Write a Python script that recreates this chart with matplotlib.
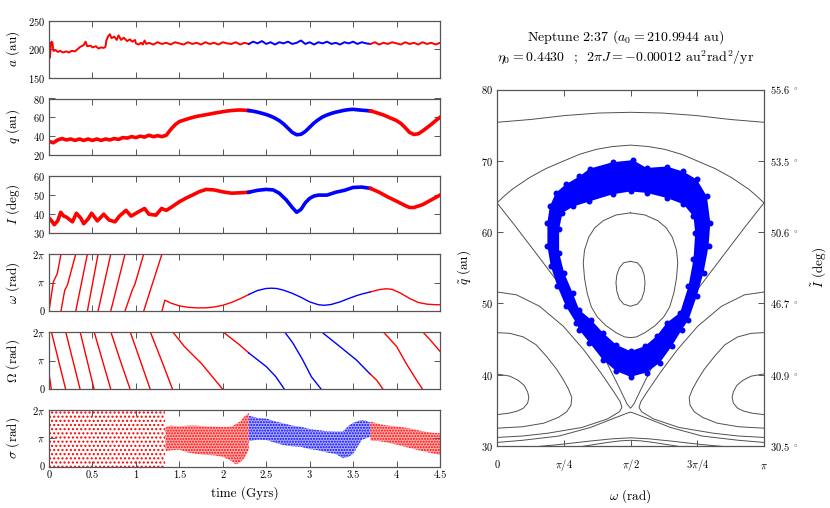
"""Neptune 2:37 resonance: orbital element history and (omega, q) phase portrait."""

import matplotlib

matplotlib.use("Agg")
import matplotlib.pyplot as plt
import numpy as np
from matplotlib.patches import PathPatch
from matplotlib.path import Path

plt.rcParams["font.family"] = ["cmr10"]
plt.rcParams["mathtext.fontset"] = "cm"
plt.rcParams["axes.formatter.use_mathtext"] = True
plt.rcParams["hatch.linewidth"] = 1.0

PI = np.pi
RED = "#ff0000"
BLUE = "#0000ff"
FRAME = "#555555"
CONTOUR = "#505050"
BLUE_START, BLUE_END = 2.3, 3.7

# ---------------------------------------------------------------- time series
A_T = [0.0, 0.005, 0.01, 0.02, 0.03, 0.04, 0.05, 0.08, 0.10, 0.13, 0.16, 0.20,
       0.23, 0.26, 0.30, 0.33, 0.36, 0.40, 0.42, 0.44, 0.48, 0.50, 0.54, 0.57,
       0.60, 0.63, 0.65, 0.66, 0.68, 0.70, 0.72, 0.75, 0.78, 0.80, 0.83, 0.86,
       0.90, 0.93, 0.96, 0.99, 1.00, 1.03, 1.06, 1.08, 1.10, 1.12, 1.15, 1.20,
       1.25, 1.30, 1.35, 1.40, 1.45, 1.50, 1.55, 1.60, 1.65, 1.70, 1.75, 1.80,
       1.85, 1.90, 1.95, 2.00, 2.05, 2.10, 2.15, 2.20, 2.25, 2.30, 2.35, 2.40,
       2.45, 2.50, 2.55, 2.60, 2.65, 2.70, 2.75, 2.80, 2.85, 2.90, 2.95, 3.00,
       3.05, 3.10, 3.15, 3.20, 3.25, 3.30, 3.35, 3.40, 3.45, 3.50, 3.55, 3.60,
       3.65, 3.70, 3.75, 3.80, 3.85, 3.90, 3.95, 4.00, 4.05, 4.10, 4.15, 4.20,
       4.25, 4.30, 4.35, 4.40, 4.45, 4.50]
A_VAL = [210, 212, 185, 205, 213, 211, 197, 198, 195, 197, 194, 196,
         194, 197, 196, 200, 204, 207, 213, 205, 206, 203, 205, 201,
         203, 202, 204, 215, 222, 226, 219, 222, 216, 224, 216, 220,
         214, 217, 213, 216, 210, 208, 211, 208, 215, 209, 211, 208,
         212, 209, 211, 208, 212, 210, 208, 212, 209, 211, 208, 212,
         209, 211, 208, 212, 210, 209, 212, 208, 211, 209, 213, 210,
         214, 209, 212, 208, 212, 210, 213, 209, 211, 215, 209, 212,
         208, 212, 210, 213, 209, 211, 208, 212, 210, 213, 209, 212,
         210, 209, 212, 208, 211, 209, 212, 210, 208, 212, 209, 211,
         208, 212, 209, 211, 208, 211]

Q_T = [0.00, 0.05, 0.10, 0.15, 0.20, 0.25, 0.30, 0.35, 0.40, 0.45, 0.50, 0.55,
       0.60, 0.65, 0.70, 0.75, 0.80, 0.85, 0.90, 0.95, 1.00, 1.05, 1.10, 1.15,
       1.20, 1.25, 1.30, 1.35, 1.40, 1.45, 1.50, 1.55, 1.60, 1.65, 1.70, 1.75,
       1.80, 1.85, 1.90, 1.95, 2.00, 2.05, 2.10, 2.15, 2.20, 2.25, 2.30, 2.35,
       2.40, 2.45, 2.50, 2.55, 2.60, 2.65, 2.70, 2.75, 2.80, 2.85, 2.90, 2.95,
       3.00, 3.05, 3.10, 3.15, 3.20, 3.25, 3.30, 3.35, 3.40, 3.45, 3.50, 3.55,
       3.60, 3.65, 3.70, 3.75, 3.80, 3.85, 3.90, 3.95, 4.00, 4.05, 4.10, 4.15,
       4.20, 4.25, 4.30, 4.35, 4.40, 4.45, 4.50]
Q_VAL = [34.5, 33.0, 36.0, 37.5, 36.0, 37.0, 35.5, 37.0, 35.5, 37.0, 35.5, 37.0,
         35.5, 37.0, 36.0, 37.5, 36.5, 38.5, 38.0, 39.5, 38.5, 40.0, 39.0, 41.0,
         39.5, 40.5, 39.5, 41.0, 47.0, 52.0, 55.5, 57.0, 58.5, 59.8, 61.0, 61.8,
         62.7, 63.5, 64.4, 65.2, 66.0, 66.7, 67.2, 67.6, 67.8, 67.6, 67.2, 66.5,
         65.5, 64.3, 63.0, 61.3, 59.2, 56.5, 53.0, 48.5, 44.0, 41.5, 42.0, 45.0,
         49.5, 54.0, 57.5, 60.5, 62.5, 64.2, 65.5, 66.5, 67.5, 68.2, 68.5, 68.0,
         67.6, 67.2, 66.8, 65.5, 64.0, 62.5, 60.5, 58.5, 56.5, 53.5, 49.0, 44.0,
         41.8, 42.5, 45.5, 49.0, 52.5, 56.5, 60.0]

I_T = [0.00, 0.03, 0.06, 0.10, 0.135, 0.17, 0.20, 0.27, 0.315, 0.365, 0.40,
       0.45, 0.49, 0.557, 0.63, 0.69, 0.76, 0.81, 0.886, 0.945, 1.02, 1.10,
       1.15, 1.23, 1.296, 1.35, 1.42, 1.50, 1.58, 1.65, 1.73, 1.81, 1.90, 2.00,
       2.10, 2.20, 2.30, 2.40, 2.50, 2.58, 2.65, 2.73, 2.80, 2.85, 2.90, 2.95,
       3.00, 3.05, 3.10, 3.20, 3.30, 3.40, 3.50, 3.60, 3.70, 3.80, 3.90, 4.00,
       4.10, 4.15, 4.20, 4.30, 4.40, 4.50]
I_VAL = [38.0, 36.5, 34.5, 36.5, 41.0, 39.0, 38.5, 36.0, 40.5, 38.0, 35.0,
         37.5, 40.5, 36.5, 40.0, 37.0, 36.0, 39.0, 42.0, 39.0, 41.0, 43.0,
         40.0, 39.5, 43.0, 42.0, 44.0, 46.5, 48.5, 50.0, 51.8, 53.0, 52.7, 51.7,
         51.0, 51.2, 51.5, 52.5, 53.0, 52.7, 51.0, 47.5, 43.5, 41.0, 42.5, 46.0,
         48.3, 49.5, 50.0, 50.0, 51.5, 52.5, 54.0, 54.2, 53.5, 51.5, 49.0, 46.8,
         44.5, 43.5, 43.5, 45.0, 47.5, 50.0]

# argument of perihelion, one list per wrap (t in Gyr, value in units of pi)
OMEGA_SEGS = [
    [(0.0, 0.0), (0.05, 1.02), (0.096, 1.32), (0.138, 2.0)],
    [(0.138, 0.0), (0.181, 0.73), (0.212, 0.91), (0.308, 2.0)],
    [(0.308, 0.0), (0.442, 2.0)],
    [(0.442, 0.0), (0.565, 2.0)],
    [(0.565, 0.0), (0.711, 2.0)],
    [(0.711, 0.0), (0.875, 2.0)],
    [(0.875, 0.0), (0.96, 0.75), (0.99, 0.95), (1.09, 2.0)],
    [(1.09, 0.0), (1.30, 2.0)],
    [(1.30, 0.0), (1.334, 0.38), (1.40, 0.28), (1.50, 0.18), (1.60, 0.13),
     (1.70, 0.11), (1.80, 0.11), (1.90, 0.14), (2.00, 0.20), (2.10, 0.30),
     (2.20, 0.43), (2.30, 0.58), (2.40, 0.72), (2.50, 0.79), (2.56, 0.80),
     (2.62, 0.79), (2.70, 0.73), (2.80, 0.62), (2.90, 0.48), (3.00, 0.32),
     (3.10, 0.22), (3.17, 0.20), (3.25, 0.23), (3.35, 0.32), (3.45, 0.44),
     (3.55, 0.55), (3.62, 0.61), (3.70, 0.67), (3.80, 0.75), (3.88, 0.78),
     (3.95, 0.76), (4.05, 0.62), (4.15, 0.44), (4.25, 0.30), (4.35, 0.24),
     (4.45, 0.22), (4.50, 0.22)],
]

# longitude of node, one list per wrap (t in Gyr, value in units of pi)
NODE_SEGS = [
    [(0.0, 0.55), (0.027, 0.0)],
    [(0.027, 2.0), (0.192, 0.0)],
    [(0.192, 2.0), (0.358, 0.0)],
    [(0.358, 2.0), (0.519, 0.0)],
    [(0.519, 2.0), (0.711, 0.0)],
    [(0.711, 2.0), (0.82, 1.0), (0.934, 0.0)],
    [(0.934, 2.0), (1.05, 1.0), (1.165, 0.0)],
    [(1.165, 2.0), (1.307, 0.91), (1.422, 0.0)],
    [(1.422, 2.0), (1.557, 1.49), (1.75, 0.91), (2.0, 0.0)],
    [(2.0, 2.0), (2.19, 1.55), (2.3, 1.26), (2.5, 0.79), (2.61, 0.44),
     (2.71, 0.0)],
    [(2.71, 2.0), (2.806, 1.61), (2.92, 1.02), (3.02, 0.435), (3.134, 0.0)],
    [(3.134, 2.0), (3.345, 1.49), (3.537, 1.02), (3.67, 0.61), (3.7, 0.52),
     (3.77, 0.32), (3.845, 0.0)],
    [(3.845, 2.0), (4.0, 1.49), (4.11, 0.9), (4.23, 0.32), (4.3, 0.0)],
    [(4.3, 2.0), (4.4, 1.67), (4.5, 1.32)],
]

# resonant angle clouds: envelope (t, lower, upper) in units of pi
SIG_CIRC_T = [0.0, 1.34]
SIG_CIRC_LO = [0.0, 0.0]
SIG_CIRC_HI = [2.0, 2.0]
SIG_RED1_T = [1.34, 1.4, 1.5, 1.6, 1.7, 1.8, 1.9, 2.0, 2.1, 2.15, 2.2, 2.25, 2.3]
SIG_RED1_LO = [0.55, 0.58, 0.6, 0.5, 0.45, 0.42, 0.4, 0.35, 0.2, 0.08, 0.15,
               0.3, 0.6]
SIG_RED1_HI = [1.40, 1.45, 1.42, 1.45, 1.45, 1.42, 1.42, 1.4, 1.42, 1.5, 1.6,
               1.78, 1.9]
SIG_BLUE_T = [2.3, 2.4, 2.5, 2.6, 2.7, 2.8, 2.9, 3.0, 3.1, 3.2, 3.3, 3.38,
              3.45, 3.5, 3.55, 3.6, 3.65, 3.7]
SIG_BLUE_LO = [0.9, 0.95, 0.94, 0.85, 0.76, 0.72, 0.7, 0.62, 0.58, 0.5, 0.45,
               0.3, 0.35, 0.45, 0.7, 0.95, 1.0, 1.05]
SIG_BLUE_HI = [1.8, 1.72, 1.7, 1.6, 1.53, 1.45, 1.41, 1.33, 1.29, 1.25, 1.24,
               1.24, 1.45, 1.55, 1.6, 1.65, 1.62, 1.55]
SIG_RED2_T = [3.7, 3.8, 3.9, 4.0, 4.1, 4.2, 4.3, 4.4, 4.5]
SIG_RED2_LO = [0.92, 0.9, 0.85, 0.78, 0.7, 0.62, 0.55, 0.48, 0.42]
SIG_RED2_HI = [1.6, 1.5, 1.45, 1.42, 1.38, 1.32, 1.25, 1.2, 1.18]

# ------------------------------------------------------- phase portrait data
# level curves, left half only (omega in rad); the plot is symmetric about pi/2
TOP_W = [0.0, 0.4, 0.8, 1.2, PI / 2]
TOP_Q = [75.4, 75.8, 76.35, 76.7, 76.8]
ARC_W = [0.0, 0.09, 0.178, 0.376, 0.574, 0.77, 0.968, 1.166, 1.36, PI / 2]
ARC_Q = [64.1, 65.1, 66.0, 67.6, 68.9, 69.9, 70.9, 71.6, 72.0, 72.2]
VLEG_W = [0.0, 0.218, 0.455, 0.69, 0.93, 1.13, 1.30, 1.45, 1.53, PI / 2]
VLEG_Q = [64.1, 60.8, 57.1, 53.4, 49.6, 45.5, 41.5, 37.9, 35.9, 35.3]
LAMBDA_W = [0.0, 0.3, 0.73, 1.1, 1.4, 1.53, PI / 2]
LAMBDA_Q = [30.5, 30.8, 31.4, 32.6, 34.0, 34.6, 34.75]
BUMP1_W = [0.45, 0.73, 1.1, 1.35, PI / 2]
BUMP1_Q = [29.9, 30.2, 30.7, 31.0, 31.15]
BUMP2_W = [0.98, 1.3, 1.45, PI / 2]
BUMP2_Q = [29.9, 30.5, 30.72, 30.8]
OVAL1_W = [PI / 2, 1.49, 1.44, 1.41, 1.40, 1.41, 1.44, 1.49, PI / 2]
OVAL1_Q = [55.9, 55.7, 55.0, 54.0, 52.9, 51.7, 50.6, 49.9, 49.6]
OVAL2_W = [PI / 2, 1.40, 1.25, 1.15, 1.08, 1.03, 1.015, 1.03, 1.06, 1.11,
           1.18, 1.28, 1.40, 1.50, PI / 2]
OVAL2_Q = [62.7, 62.4, 61.6, 60.6, 59.3, 57.5, 55.7, 53.5, 51.5, 49.5,
           48.1, 46.9, 45.9, 45.3, 45.2]
# lobes around omega = 0 (repeated at omega = pi)
LOBE1_W = [0.0, 0.15, 0.25, 0.32, 0.36, 0.375, 0.36, 0.31, 0.24, 0.14, 0.0]
LOBE1_Q = [40.1, 39.8, 39.2, 38.5, 37.6, 36.8, 36.0, 35.3, 34.9, 34.6, 34.4]
LOBE2_W = [0.0, 0.15, 0.31, 0.46, 0.58, 0.70, 0.78, 0.84, 0.88, 0.87, 0.82,
           0.72, 0.55, 0.3, 0.0]
LOBE2_Q = [45.9, 45.8, 45.3, 44.2, 42.6, 40.8, 39.3, 38.0, 36.8, 35.7, 34.8,
           34.0, 33.2, 32.7, 32.5]
LOBE3_W = [0.0, 0.23, 0.5, 0.78, 1.02, 1.22, 1.38, 1.45, 1.47, 1.44, 1.3, 1.0,
           0.6, 0.3, 0.0]
LOBE3_Q = [51.6, 51.2, 49.6, 46.8, 43.5, 40.3, 37.5, 36.2, 35.4, 34.8, 33.8,
           32.6, 31.8, 31.4, 31.2]

# libration band of the blue (resonant) interval: outer and inner edges
RING_OUT_W = [1.60, 1.36, 1.09, 0.968, 0.81, 0.692, 0.621, 0.593, 0.593, 0.633,
              0.711, 0.81, 0.929, 0.968, 1.087, 1.245, 1.403, 1.571, 1.76,
              1.917, 2.056, 2.174, 2.253, 2.35, 2.43, 2.489, 2.51, 2.47, 2.35,
              2.19, 1.996, 1.76]
RING_OUT_Q = [70.1, 69.8, 68.9, 67.8, 66.7, 65.5, 63.6, 61.3, 58.0, 55.2,
              52.4, 49.6, 47.3, 46.3, 44.5, 42.1, 40.5, 39.7, 40.3,
              41.7, 44.0, 46.3, 47.7, 51.0, 54.3, 58.0, 61.3, 65.0, 67.4,
              68.5, 69.2, 69.0]
RING_IN_W = [1.571, 1.36, 1.087, 0.9, 0.77, 0.731, 0.731, 0.79, 0.889, 0.968,
             1.107, 1.245, 1.403, 1.571, 1.739, 1.877, 2.0, 2.154, 2.253, 2.312,
             2.332, 2.312, 2.194, 1.996, 1.76]
RING_IN_Q = [65.7, 65.3, 64.3, 63.6, 62.7, 60.4, 57.1, 54.3, 51.5, 49.1,
             47.7, 45.9, 44.2, 43.3, 44.0, 45.4, 47.3, 48.7, 52.4, 56.2,
             59.9, 62.2, 63.9, 64.8, 65.5]

Q_TICKS = [30, 40, 50, 60, 70, 80]
I_TICK_LABELS = ["30.5", "40.9", "46.7", "50.6", "53.5", "55.6"]
W_TICK_LABELS = [r"$0$", r"$\pi/4$", r"$\pi/2$", r"$3\pi/4$", r"$\pi$"]
T_TICKS = [0, 0.5, 1, 1.5, 2, 2.5, 3, 3.5, 4, 4.5]
T_TICK_LABELS = ["0", "0.5", "1", "1.5", "2", "2.5", "3", "3.5", "4", "4.5"]


def style_axes(ax):
    for spine in ax.spines.values():
        spine.set_color(FRAME)
        spine.set_linewidth(0.9)
    ax.tick_params(direction="in", length=4, width=0.7, color=FRAME,
                   top=True, right=True, labelsize=7.5, pad=3)


def plot_by_phase(ax, t, y, lw):
    """Red outside the resonant interval, blue inside it."""
    t = np.asarray(t, dtype=float)
    y = np.asarray(y, dtype=float)
    for lo, hi, color in [(-1, BLUE_START, RED), (BLUE_START, BLUE_END, BLUE),
                          (BLUE_END, 9, RED)]:
        m = (t >= lo - 1e-9) & (t <= hi + 1e-9)
        if m.sum() > 1:
            ax.plot(t[m], y[m], color=color, lw=lw, solid_joinstyle="round")


def mirrored(w, q):
    w = np.asarray(w)
    q = np.asarray(q)
    return np.concatenate([w, PI - w[::-1]]), np.concatenate([q, q[::-1]])


def main():
    fig = plt.figure(figsize=(8.3, 5.08), dpi=100)
    W, H = 830.0, 508.0

    panels = [(20.5, 77.7), (98.5, 155.0), (176.0, 233.3), (254.0, 311.0),
              (331.7, 389.3), (410.0, 466.7)]
    axes = []
    for top, bot in panels:
        ax = fig.add_axes([49 / W, 1 - bot / H, 391 / W, (bot - top) / H])
        style_axes(ax)
        ax.set_xlim(0, 4.5)
        ax.set_xticks(T_TICKS)
        ax.set_xticklabels(T_TICK_LABELS)
        ax.tick_params(labelbottom=False)
        ax.yaxis.set_label_coords(-0.07, 0.5)
        axes.append(ax)
    ax_a, ax_q, ax_i, ax_w, ax_n, ax_s = axes

    plot_by_phase(ax_a, A_T, A_VAL, 1.4)
    ax_a.set_ylim(150, 250)
    ax_a.set_yticks([150, 200, 250])
    ax_a.set_ylabel(r"$a$ (au)", fontsize=9.5)

    plot_by_phase(ax_q, Q_T, Q_VAL, 2.6)
    ax_q.set_ylim(20, 80)
    ax_q.set_yticks([20, 40, 60, 80])
    ax_q.set_ylabel(r"$q$ (au)", fontsize=9.5)

    plot_by_phase(ax_i, I_T, I_VAL, 2.6)
    ax_i.set_ylim(30, 60)
    ax_i.set_yticks([30, 40, 50, 60])
    ax_i.set_ylabel(r"$I$ (deg)", fontsize=9.5)

    for ax, segs, label in [(ax_w, OMEGA_SEGS, r"$\omega$ (rad)"),
                            (ax_n, NODE_SEGS, r"$\Omega$ (rad)")]:
        for seg in segs:
            t, v = zip(*seg)
            plot_by_phase(ax, t, np.asarray(v) * PI, 1.0)
        ax.set_ylabel(label, fontsize=9.5)

    clouds = [(SIG_CIRC_T, SIG_CIRC_LO, SIG_CIRC_HI, RED, "....", 0.0),
              (SIG_RED1_T, SIG_RED1_LO, SIG_RED1_HI, RED, "......", 0.3),
              (SIG_BLUE_T, SIG_BLUE_LO, SIG_BLUE_HI, BLUE, "......", 0.3),
              (SIG_RED2_T, SIG_RED2_LO, SIG_RED2_HI, RED, "......", 0.3)]
    for t, lo, hi, color, hatch, alpha in clouds:
        lo = np.asarray(lo) * PI
        hi = np.asarray(hi) * PI
        if alpha > 0:
            ax_s.fill_between(t, lo, hi, facecolor=color, alpha=alpha,
                              linewidth=0)
        ax_s.fill_between(t, lo, hi, facecolor="none", edgecolor=color,
                          hatch=hatch, linewidth=0)
    ax_s.set_ylabel(r"$\sigma$ (rad)", fontsize=9.5)
    ax_s.tick_params(labelbottom=True)
    ax_s.set_xlabel("time (Gyrs)", fontsize=9.5, labelpad=4)

    for ax in (ax_w, ax_n, ax_s):
        ax.set_ylim(0, 2 * PI)
        ax.set_yticks([0, PI, 2 * PI])
        ax.set_yticklabels(["0", r"$\pi$", r"$2\pi$"])

    # ------------------------------------------------------- phase portrait
    axp = fig.add_axes([497 / W, 1 - 446 / H, 267 / W, 356.5 / H])
    style_axes(axp)
    axp.set_xlim(0, PI)
    axp.set_ylim(30, 80)

    line_kw = dict(color=CONTOUR, lw=0.7, zorder=2)
    for w, q in [(TOP_W, TOP_Q), (ARC_W, ARC_Q), (VLEG_W, VLEG_Q),
                 (LAMBDA_W, LAMBDA_Q), (BUMP1_W, BUMP1_Q), (BUMP2_W, BUMP2_Q),
                 (OVAL1_W, OVAL1_Q), (OVAL2_W, OVAL2_Q)]:
        mw, mq = mirrored(w, q)
        axp.plot(mw, mq, **line_kw)
    for w, q in [(LOBE1_W, LOBE1_Q), (LOBE2_W, LOBE2_Q), (LOBE3_W, LOBE3_Q)]:
        axp.plot(w, q, **line_kw)
        axp.plot(PI - np.asarray(w), q, **line_kw)

    outer = np.column_stack([RING_OUT_W + RING_OUT_W[:1],
                             RING_OUT_Q + RING_OUT_Q[:1]])
    inner = np.column_stack([RING_IN_W + RING_IN_W[:1],
                             RING_IN_Q + RING_IN_Q[:1]])[::-1]
    verts = np.vstack([outer, inner])
    codes = ([Path.MOVETO] + [Path.LINETO] * (len(outer) - 2) + [Path.CLOSEPOLY]
             + [Path.MOVETO] + [Path.LINETO] * (len(inner) - 2)
             + [Path.CLOSEPOLY])
    axp.add_patch(PathPatch(Path(verts, codes), facecolor=BLUE,
                            edgecolor="none", zorder=3))
    axp.plot(RING_OUT_W, RING_OUT_Q, "o", color=BLUE, ms=4.3, mew=0, zorder=3)
    axp.plot(RING_IN_W, RING_IN_Q, "o", color=BLUE, ms=4.3, mew=0, zorder=3)

    axp.set_xticks([0, PI / 4, PI / 2, 3 * PI / 4, PI])
    axp.set_xticklabels(W_TICK_LABELS)
    axp.tick_params(axis="x", pad=16)
    for lbl in axp.get_xticklabels():
        lbl.set_verticalalignment("baseline")
    axp.set_yticks(Q_TICKS)
    axp.set_xlabel(r"$\omega$ (rad)", fontsize=9.5, labelpad=10)
    axp.set_ylabel(r"$\tilde{q}$ (au)", fontsize=9.5, labelpad=6)

    axr = axp.twinx()
    axr.set_ylim(30, 80)
    axr.set_yticks(Q_TICKS)
    axr.set_yticklabels([s + r" $^\circ$" for s in I_TICK_LABELS])
    axr.tick_params(direction="in", length=4, width=0.7, color=FRAME,
                    labelsize=7.5, pad=4)
    for spine in axr.spines.values():
        spine.set_visible(False)
    axr.set_ylabel(r"$\tilde{I}$ (deg)", fontsize=9.5, labelpad=8)

    fig.text(626 / W, 1 - 37 / H, r"Neptune 2:37 ($a_0 = 210.9944$ au)",
             ha="center", va="center", fontsize=10)
    fig.text(626 / W, 1 - 57 / H,
             r"$\eta_0 = 0.4430$  ;  $2\pi J = -0.00012$ au$^2$rad$^2$/yr",
             ha="center", va="center", fontsize=10)

    fig.savefig("out.png", dpi=100)
    plt.close(fig)


if __name__ == "__main__":
    main()
